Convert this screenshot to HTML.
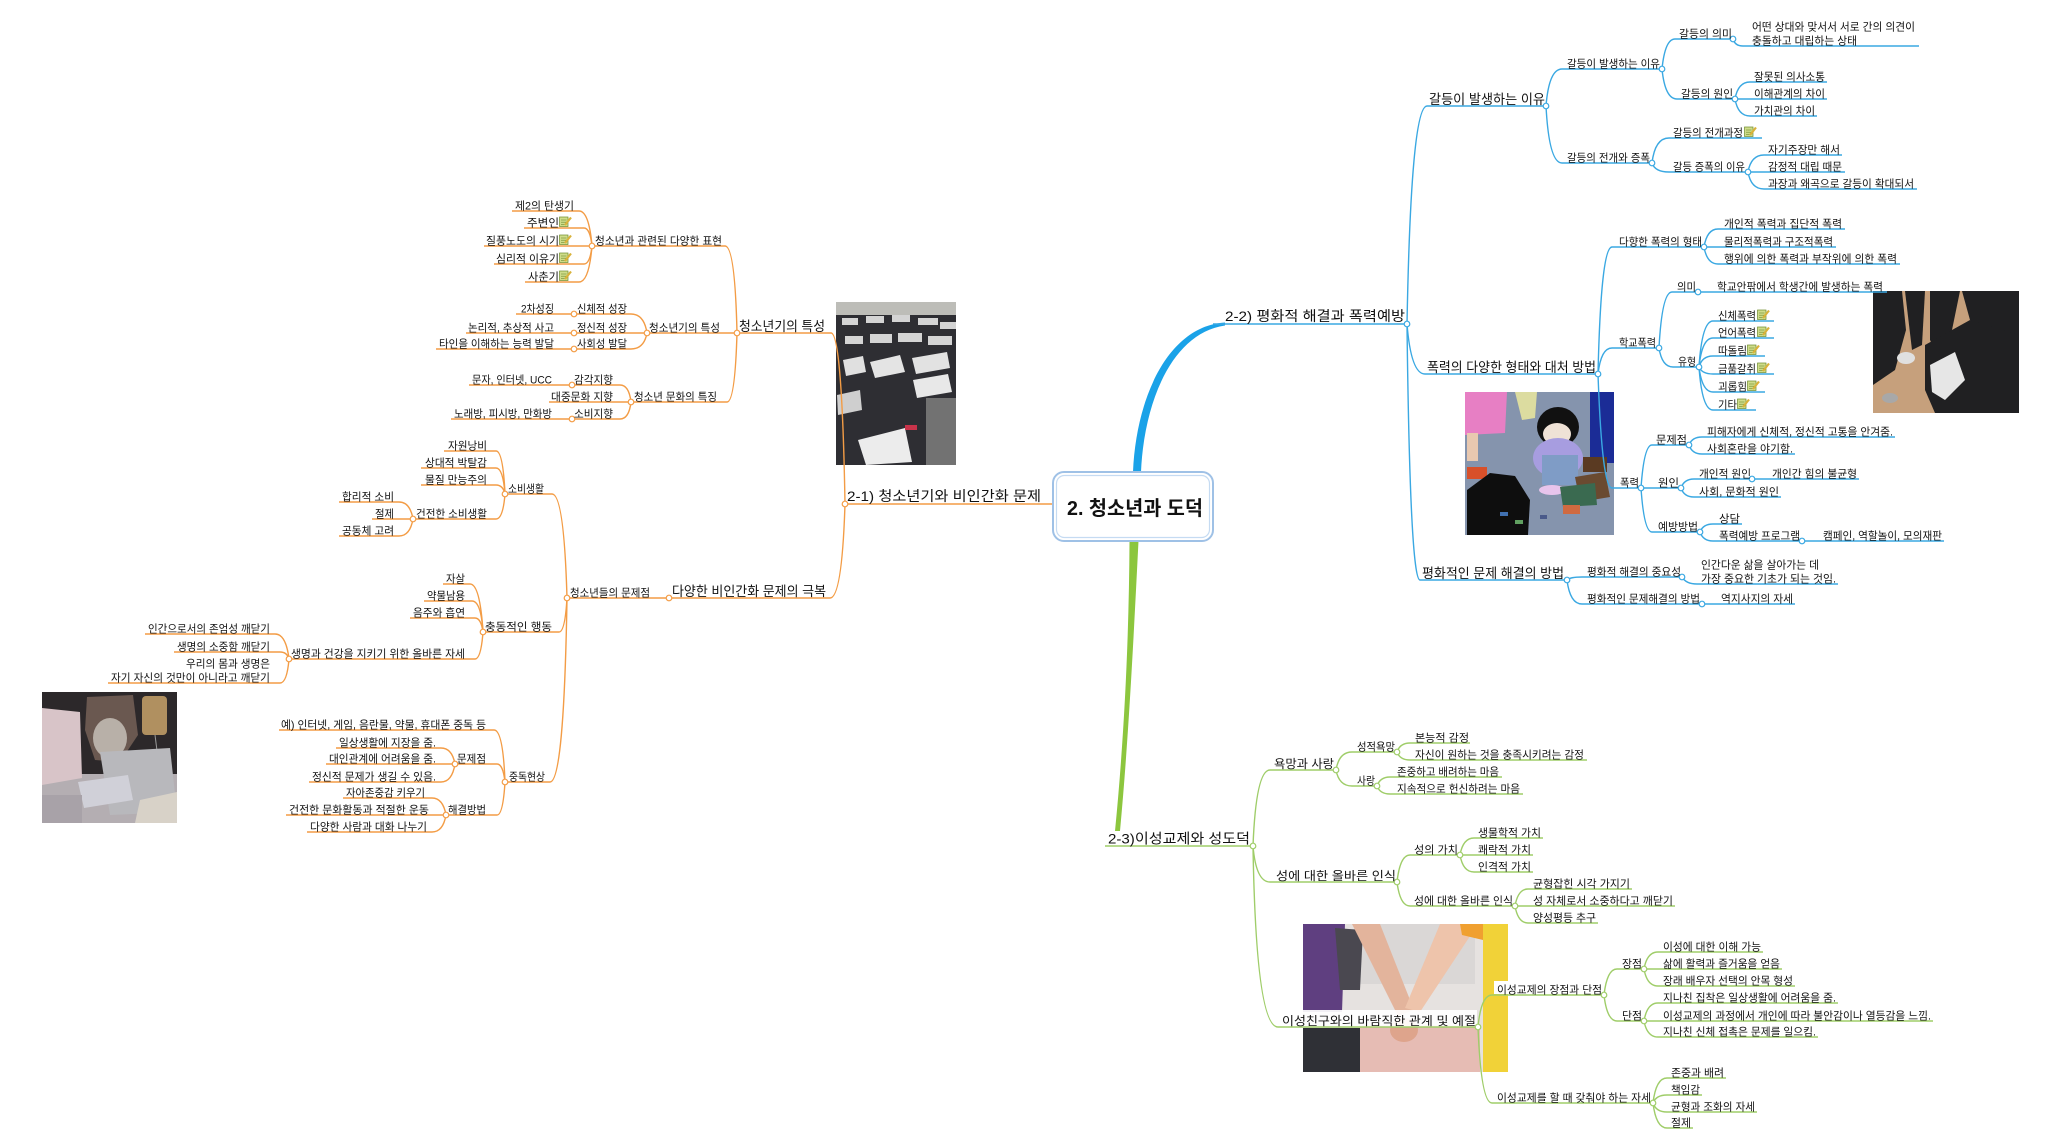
<!DOCTYPE html>
<html><head><meta charset="utf-8">
<style>
html,body{margin:0;padding:0;background:#fff;}
body{width:2045px;height:1134px;overflow:hidden;}
svg{display:block;}
text{font-family:"Liberation Sans","Noto Sans CJK KR","NanumGothic",sans-serif;fill:#111;}
.a{font-size:11px;}
.b{font-size:13.5px;}
.c{font-size:12px;}
.d{font-size:14px;}
.o path{fill:none;stroke:#f39c45;stroke-width:1.4;}
.u path{fill:none;stroke:#3aa8e2;stroke-width:1.4;}
.g path{fill:none;stroke:#9fcd69;stroke-width:1.4;}
.oc circle{fill:#fff;stroke:#f39c45;stroke-width:1.2;}
.uc circle{fill:#fff;stroke:#3aa8e2;stroke-width:1.2;}
.gc circle{fill:#fff;stroke:#9fcd69;stroke-width:1.2;}
</style></head>
<body>
<svg width="2045" height="1134" viewBox="0 0 2045 1134" xmlns="http://www.w3.org/2000/svg">
<defs>
<g id="ic">
<rect x="0.5" y="1" width="8.5" height="9.5" fill="#cfdc8a" stroke="#6d8a2c" stroke-width="0.7"/>
<line x1="2" y1="4" x2="7.5" y2="4" stroke="#6d8a2c" stroke-width="0.6"/>
<line x1="2" y1="6.2" x2="7.5" y2="6.2" stroke="#6d8a2c" stroke-width="0.6"/>
<line x1="2" y1="8.4" x2="7.5" y2="8.4" stroke="#6d8a2c" stroke-width="0.6"/>
<line x1="6" y1="9" x2="12" y2="1.5" stroke="#d9b23a" stroke-width="2.2"/>
</g>
<clipPath id="k1"><rect x="836" y="302" width="120" height="163"/></clipPath>
<clipPath id="k2"><rect x="1873" y="291" width="146" height="122"/></clipPath>
<clipPath id="k3"><rect x="1465" y="392" width="149" height="143"/></clipPath>
<clipPath id="k4"><rect x="42" y="692" width="135" height="131"/></clipPath>
<clipPath id="k5"><rect x="1303" y="924" width="205" height="148"/></clipPath>
</defs>
<rect width="2045" height="1134" fill="#fff"/>

<!-- classroom photo -->
<g clip-path="url(#k1)">
<rect x="836" y="302" width="120" height="163" fill="#2e2e33"/>
<rect x="836" y="302" width="120" height="13" fill="#bdbdb8"/>
<g fill="#d4d4d4">
<rect x="842" y="318" width="16" height="7"/><rect x="866" y="316" width="18" height="7"/><rect x="892" y="315" width="18" height="7"/><rect x="918" y="318" width="20" height="7"/><rect x="940" y="322" width="16" height="7"/>
<rect x="845" y="336" width="18" height="8"/><rect x="870" y="334" width="22" height="9"/><rect x="898" y="333" width="24" height="9"/><rect x="928" y="336" width="24" height="9"/>
</g>
<polygon points="843,360 863,356 866,372 846,376" fill="#e0e0e0"/>
<polygon points="870,362 900,355 905,372 875,378" fill="#e4e4e4"/>
<polygon points="912,358 947,352 950,368 916,374" fill="#e2e2e2"/>
<polygon points="913,380 948,374 952,392 917,398" fill="#e8e8e8"/>
<polygon points="837,395 860,390 862,410 838,415" fill="#cfcfcf"/>
<rect x="926" y="398" width="30" height="67" fill="#727272"/>
<polygon points="858,440 905,428 912,462 866,465" fill="#ececec"/>
<rect x="905" y="425" width="12" height="5" fill="#c8334a"/>
</g>

<!-- school violence photo -->
<g clip-path="url(#k2)">
<rect x="1873" y="291" width="146" height="122" fill="#c6a07c"/>
<g fill="#202022">
<polygon points="1873,291 1902,291 1906,330 1895,370 1873,385"/>
<polygon points="1905,291 1925,291 1922,345 1912,350"/>
<polygon points="1930,291 1960,291 1952,330 1940,360 1930,340"/>
<polygon points="1962,291 2019,291 2019,340 1990,335 1970,320"/>
<polygon points="1925,345 1970,320 2019,335 2019,413 1935,413 1925,390"/>
</g>
<polygon points="1930,365 1955,352 1965,380 1945,400 1932,392" fill="#e6e6e6"/>
<ellipse cx="1906" cy="358" rx="9" ry="6" fill="#e0e0e0"/>
<ellipse cx="1890" cy="398" rx="8" ry="5" fill="#a8a8a8"/>
</g>

<!-- painting -->
<g clip-path="url(#k3)">
<rect x="1465" y="392" width="149" height="143" fill="#8594ad"/>
<polygon points="1465,392 1507,392 1505,433 1465,435" fill="#e77fc4"/>
<rect x="1467" y="433" width="11" height="28" fill="#e8c8b0"/>
<rect x="1467" y="467" width="20" height="12" fill="#d8502a"/>
<polygon points="1515,392 1537,392 1535,418 1522,420" fill="#dcdca0"/>
<rect x="1590" y="392" width="24" height="71" fill="#1b2c96"/>
<rect x="1583" y="457" width="24" height="15" fill="#5a3a22"/>
<ellipse cx="1558" cy="427" rx="21" ry="20" fill="#111"/>
<ellipse cx="1557" cy="434" rx="14" ry="11" fill="#efe2d6"/>
<ellipse cx="1558" cy="458" rx="25" ry="20" fill="#a79de0"/>
<rect x="1542" y="455" width="36" height="30" fill="#7f9cc6"/>
<ellipse cx="1552" cy="490" rx="13" ry="5" fill="#e8c4ec"/>
<polygon points="1575,477 1605,472 1610,497 1580,502" fill="#6a4a30"/>
<polygon points="1560,487 1595,483 1597,505 1563,507" fill="#3a6a50"/>
<rect x="1563" y="505" width="17" height="9" fill="#d06a40"/>
<polygon points="1467,490 1490,473 1515,476 1530,500 1528,535 1467,535" fill="#0e0e0e"/>
<rect x="1500" y="512" width="8" height="4" fill="#4070b0"/><rect x="1515" y="520" width="8" height="4" fill="#60a060"/><rect x="1540" y="515" width="7" height="4" fill="#4a5a8a"/>
</g>

<!-- cartoon -->
<g clip-path="url(#k4)">
<rect x="42" y="692" width="135" height="131" fill="#b4aeb2"/>
<rect x="42" y="692" width="135" height="82" fill="#2c282a"/>
<polygon points="42,708 80,712 82,778 42,785" fill="#d8c4c8"/>
<polygon points="87,697 133,695 138,735 120,762 95,760 85,730" fill="#6a5850"/>
<ellipse cx="110" cy="738" rx="17" ry="20" fill="#b8b0a8"/>
<rect x="142" y="696" width="25" height="39" rx="4" fill="#b09060"/>
<line x1="155" y1="735" x2="162" y2="790" stroke="#999" stroke-width="1"/>
<polygon points="100,752 170,748 177,812 110,815" fill="#b8b8bc"/>
<polygon points="78,782 128,775 133,800 84,808" fill="#d0d0d8"/>
<polygon points="140,800 177,792 177,823 135,823" fill="#d8d2c8"/>
<rect x="42" y="795" width="40" height="28" fill="#a8a2a8"/>
</g>

<!-- couple photo -->
<g clip-path="url(#k5)">
<rect x="1303" y="924" width="205" height="148" fill="#e6e2e0"/>
<rect x="1360" y="924" width="115" height="60" fill="#dad7d6"/>
<rect x="1360" y="1025" width="120" height="47" fill="#e6bcb4"/>
<polygon points="1303,924 1345,924 1342,1012 1303,1012" fill="#5f3f80"/>
<polygon points="1335,928 1363,930 1360,990 1340,990" fill="#4a4850"/>
<polygon points="1352,924 1380,924 1414,1010 1398,1016" fill="#e3b49c"/>
<polygon points="1440,924 1478,924 1420,1012 1405,1008" fill="#eec4ab"/>
<ellipse cx="1404" cy="1030" rx="14" ry="12" fill="#dea48c"/>
<polygon points="1460,924 1485,924 1483,940 1462,935" fill="#f0a030"/>
<rect x="1483" y="924" width="25" height="148" fill="#f1d238"/>
<rect x="1303" y="1028" width="57" height="44" fill="#2f3036"/>
</g>
<rect x="1280" y="1010" width="197" height="17" fill="#fff" fill-opacity="0.92"/>
<rect x="1494" y="981" width="14" height="13" fill="#fff"/>

<!-- thick branches -->
<path d="M1133 472 C1136 398 1168 326 1225 322.5 L1225 325.5 C1172 333 1144 402 1141 472 Z" fill="#1aa2e8"/>
<path d="M1129.5 541 C1129 640 1124 740 1115 831 L1120 831 C1128.5 740 1133.5 640 1138.5 541 Z" fill="#8cc63e"/>

<!-- orange connectors -->
<g class="o">
<path d="M845 504 L1053 504"/>
<path d="M845 504 Q842 333 831 333 L736 333"/>
<path d="M845 504 Q842 598 830 598 L669 598"/>
<path d="M737 333 Q735 246 725 246 L591 246"/>
<path d="M737 333 L647 333"/>
<path d="M737 333 Q735 402 727 402 L631 402"/>
<path d="M592 246 Q589 211 579 211 L512 211"/>
<path d="M592 246 Q590 228 584 228 L524 228"/>
<path d="M592 246 L484 246"/>
<path d="M592 246 Q590 264 584 264 L494 264"/>
<path d="M592 246 Q589 282 579 282 L525 282"/>
<path d="M647 333 Q644 314 631 314 L574 314"/>
<path d="M647 333 L574 333"/>
<path d="M647 333 Q644 349 631 349 L574 349"/>
<path d="M574 314 L516 314"/><path d="M574 333 L466 333"/><path d="M574 349 L436 349"/>
<path d="M631 402 Q629 385 620 385 L570 385"/><path d="M572 385 L469 385"/>
<path d="M631 402 L549 402"/>
<path d="M631 402 Q629 419 620 419 L570 419"/><path d="M572 419 L451 419"/>
<path d="M669 598 L567 598"/>
<path d="M567 598 Q564 494 552 494 L505 494"/>
<path d="M567 598 Q565 632 559 632 L483 632"/>
<path d="M567 598 Q564 782 550 782 L505 782"/>
<path d="M505 494 Q503 451 496 451 L444 451"/>
<path d="M505 494 Q503 468 496 468 L421 468"/>
<path d="M505 494 Q503 485 496 485 L421 485"/>
<path d="M505 494 Q503 519 496 519 L413 519"/>
<path d="M413 519 Q410 502 399 502 L339 502"/>
<path d="M413 519 L372 519"/>
<path d="M413 519 Q410 536 399 536 L339 536"/>
<path d="M483 632 Q480 584 470 584 L443 584"/>
<path d="M483 632 Q481 601 472 601 L424 601"/>
<path d="M483 632 Q481 618 475 618 L410 618"/>
<path d="M483 632 Q481 659 475 659 L289 659"/>
<path d="M289 659 Q286 634 275 634 L145 634"/>
<path d="M289 659 Q287 652 280 652 L174 652"/>
<path d="M289 659 Q287 683 280 683 L108 683"/>
<path d="M505 782 Q503 730 494 730 L279 730"/>
<path d="M505 782 Q503 764 497 764 L455 764"/>
<path d="M505 782 Q503 815 497 815 L446 815"/>
<path d="M455 764 Q452 748 441 748 L336 748"/>
<path d="M455 764 L326 764"/>
<path d="M455 764 Q452 782 441 782 L309 782"/>
<path d="M446 815 Q443 798 432 798 L343 798"/>
<path d="M446 815 L286 815"/>
<path d="M446 815 Q443 832 432 832 L307 832"/>
</g>
<g class="oc">
<circle cx="845" cy="504" r="2.8"/><circle cx="737" cy="333" r="2.8"/><circle cx="592" cy="246" r="2.8"/><circle cx="647" cy="333" r="2.8"/>
<circle cx="574" cy="314" r="2.8"/><circle cx="574" cy="333" r="2.8"/><circle cx="574" cy="349" r="2.8"/><circle cx="631" cy="402" r="2.8"/>
<circle cx="572" cy="385" r="2.8"/><circle cx="572" cy="419" r="2.8"/><circle cx="669" cy="598" r="2.8"/><circle cx="567" cy="598" r="2.8"/>
<circle cx="505" cy="494" r="2.8"/><circle cx="413" cy="519" r="2.8"/><circle cx="483" cy="632" r="2.8"/><circle cx="289" cy="659" r="2.8"/>
<circle cx="505" cy="782" r="2.8"/><circle cx="455" cy="764" r="2.8"/><circle cx="446" cy="815" r="2.8"/>
</g>

<!-- blue connectors -->
<g class="u">
<path d="M1213 324 L1407 324"/>
<path d="M1407 324 Q1411 106 1427 106 L1546 106"/>
<path d="M1407 324 Q1411 374 1425 374 L1598 374"/>
<path d="M1407 324 Q1410 580 1420 580 L1567 580"/>
<path d="M1546 106 Q1549 69 1562 69 L1662 69"/>
<path d="M1546 106 Q1549 163 1562 163 L1652 163"/>
<path d="M1662 69 Q1665 39 1675 39 L1733 39"/>
<path d="M1662 69 Q1665 99 1677 99 L1735 99"/>
<path d="M1733 39 Q1735 46 1743 46 L1919 46"/>
<path d="M1735 99 Q1738 82 1750 82 L1827 82"/>
<path d="M1735 99 L1827 99"/>
<path d="M1735 99 Q1738 116 1750 116 L1817 116"/>
<path d="M1652 163 Q1655 138 1669 138 L1762 138"/>
<path d="M1652 163 Q1655 172 1669 172 L1748 172"/>
<path d="M1748 172 Q1751 155 1764 155 L1842 155"/>
<path d="M1748 172 L1845 172"/>
<path d="M1748 172 Q1751 189 1764 189 L1917 189"/>
<path d="M1598 374 Q1601 247 1612 247 L1704 247"/>
<path d="M1598 374 Q1601 348 1612 348 L1659 348"/>
<path d="M1598 374 Q1602 488 1612 488 L1641 488"/>
<path d="M1704 247 Q1707 229 1718 229 L1845 229"/>
<path d="M1704 247 L1836 247"/>
<path d="M1704 247 Q1707 264 1718 264 L1900 264"/>
<path d="M1659 348 Q1662 292 1672 292 L1698 292"/>
<path d="M1659 348 Q1662 367 1673 367 L1699 367"/>
<path d="M1698 292 L1887 292"/>
<path d="M1699 367 Q1702 321 1713 321 L1774 321"/>
<path d="M1699 367 Q1702 338 1713 338 L1774 338"/>
<path d="M1699 367 Q1702 356 1713 356 L1765 356"/>
<path d="M1699 367 Q1702 374 1713 374 L1774 374"/>
<path d="M1699 367 Q1702 392 1713 392 L1765 392"/>
<path d="M1699 367 Q1702 410 1713 410 L1756 410"/>
<path d="M1641 488 Q1644 445 1652 445 L1689 445"/>
<path d="M1641 488 L1681 488"/>
<path d="M1641 488 Q1644 532 1652 532 L1700 532"/>
<path d="M1689 445 Q1692 437 1702 437 L1895 437"/>
<path d="M1689 445 Q1692 454 1702 454 L1795 454"/>
<path d="M1681 488 Q1684 479 1694 479 L1752 479"/>
<path d="M1681 488 Q1684 497 1694 497 L1781 497"/>
<path d="M1752 479 L1859 479"/>
<path d="M1700 532 Q1703 524 1713 524 L1742 524"/>
<path d="M1700 532 Q1703 541 1713 541 L1802 541"/>
<path d="M1802 541 L1944 541"/>
<path d="M1567 580 Q1570 577 1582 577 L1682 577"/>
<path d="M1567 580 Q1570 604 1582 604 L1702 604"/>
<path d="M1682 577 Q1686 584 1697 584 L1838 584"/>
<path d="M1702 604 L1795 604"/>
</g>
<g class="uc">
<circle cx="1407" cy="324" r="2.8"/><circle cx="1546" cy="106" r="2.8"/><circle cx="1662" cy="69" r="2.8"/><circle cx="1733" cy="39" r="2.8"/>
<circle cx="1735" cy="99" r="2.8"/><circle cx="1652" cy="163" r="2.8"/><circle cx="1748" cy="172" r="2.8"/><circle cx="1598" cy="374" r="2.8"/>
<circle cx="1704" cy="247" r="2.8"/><circle cx="1659" cy="348" r="2.8"/><circle cx="1698" cy="292" r="2.8"/><circle cx="1699" cy="367" r="2.8"/>
<circle cx="1641" cy="488" r="2.8"/><circle cx="1689" cy="445" r="2.8"/><circle cx="1681" cy="488" r="2.8"/><circle cx="1752" cy="479" r="2.8"/>
<circle cx="1700" cy="532" r="2.8"/><circle cx="1802" cy="541" r="2.8"/><circle cx="1567" cy="580" r="2.8"/><circle cx="1682" cy="577" r="2.8"/><circle cx="1702" cy="604" r="2.8"/>
</g>

<!-- green connectors -->
<g class="g">
<path d="M1105 846 L1253 846"/>
<path d="M1253 846 Q1256 770 1270 770 L1336 770"/>
<path d="M1253 846 Q1256 882 1270 882 L1397 882"/>
<path d="M1253 846 Q1256 1027 1278 1027 L1478 1027"/>
<path d="M1336 770 Q1339 752 1352 752 L1397 752"/>
<path d="M1336 770 Q1339 786 1352 786 L1377 786"/>
<path d="M1397 752 Q1400 743 1410 743 L1470 743"/>
<path d="M1397 752 Q1400 760 1410 760 L1587 760"/>
<path d="M1377 786 Q1380 777 1390 777 L1502 777"/>
<path d="M1377 786 Q1380 794 1390 794 L1523 794"/>
<path d="M1397 882 Q1400 855 1410 855 L1460 855"/>
<path d="M1397 882 Q1400 906 1410 906 L1515 906"/>
<path d="M1460 855 Q1463 838 1474 838 L1543 838"/>
<path d="M1460 855 L1533 855"/>
<path d="M1460 855 Q1463 872 1474 872 L1533 872"/>
<path d="M1515 906 Q1518 889 1528 889 L1632 889"/>
<path d="M1515 906 L1675 906"/>
<path d="M1515 906 Q1518 923 1528 923 L1598 923"/>
<path d="M1478 1027 Q1481 995 1492 995 L1604 995"/>
<path d="M1478 1027 Q1481 1103 1492 1103 L1653 1103"/>
<path d="M1604 995 Q1607 969 1617 969 L1644 969"/>
<path d="M1604 995 Q1607 1021 1617 1021 L1644 1021"/>
<path d="M1644 969 Q1647 952 1658 952 L1763 952"/>
<path d="M1644 969 L1782 969"/>
<path d="M1644 969 Q1647 986 1658 986 L1795 986"/>
<path d="M1644 1021 Q1647 1003 1658 1003 L1838 1003"/>
<path d="M1644 1021 L1933 1021"/>
<path d="M1644 1021 Q1647 1037 1658 1037 L1818 1037"/>
<path d="M1653 1103 Q1656 1078 1667 1078 L1726 1078"/>
<path d="M1653 1103 Q1656 1095 1667 1095 L1702 1095"/>
<path d="M1653 1103 Q1656 1112 1667 1112 L1757 1112"/>
<path d="M1653 1103 Q1656 1128 1667 1128 L1693 1128"/>
</g>
<g class="gc">
<circle cx="1253" cy="846" r="2.8"/><circle cx="1336" cy="770" r="2.8"/><circle cx="1397" cy="752" r="2.8"/><circle cx="1377" cy="786" r="2.8"/>
<circle cx="1397" cy="882" r="2.8"/><circle cx="1460" cy="855" r="2.8"/><circle cx="1515" cy="906" r="2.8"/><circle cx="1478" cy="1027" r="2.8"/>
<circle cx="1604" cy="995" r="2.8"/><circle cx="1644" cy="969" r="2.8"/><circle cx="1644" cy="1021" r="2.8"/><circle cx="1653" cy="1103" r="2.8"/>
</g>

<!-- center node -->
<rect x="1053" y="472" width="160" height="69" rx="11" fill="#fff" stroke="#9fc1e6" stroke-width="2"/>
<rect x="1056.5" y="475.5" width="153" height="62" rx="8" fill="none" stroke="#c5dbf2" stroke-width="1.2"/>
<text x="1067" y="515" style="font-size:20px;font-weight:bold" textLength="136" lengthAdjust="spacingAndGlyphs">2. 청소년과 도덕</text>

<!-- icons -->
<use href="#ic" x="559" y="216"/><use href="#ic" x="559" y="234"/><use href="#ic" x="559" y="252"/><use href="#ic" x="559" y="270"/>
<use href="#ic" x="1744" y="126"/>
<use href="#ic" x="1757" y="309"/><use href="#ic" x="1757" y="326"/><use href="#ic" x="1747" y="344"/><use href="#ic" x="1757" y="362"/><use href="#ic" x="1747" y="380"/><use href="#ic" x="1737" y="398"/>

<!-- orange texts -->
<g lengthAdjust="spacingAndGlyphs">
<text class="d" x="847" y="501" textLength="194" lengthAdjust="spacingAndGlyphs">2-1) 청소년기와 비인간화 문제</text>
<text class="b" x="739" y="331" textLength="86" lengthAdjust="spacingAndGlyphs">청소년기의 특성</text>
<text class="b" x="672" y="596" textLength="154" lengthAdjust="spacingAndGlyphs">다양한 비인간화 문제의 극복</text>
<text class="a" x="595" y="244.5" textLength="127" lengthAdjust="spacingAndGlyphs">청소년과 관련된 다양한 표현</text>
<text class="a" x="649" y="331.5" textLength="71" lengthAdjust="spacingAndGlyphs">청소년기의 특성</text>
<text class="a" x="634" y="400.5" textLength="83" lengthAdjust="spacingAndGlyphs">청소년 문화의 특징</text>
<text class="a" x="515" y="209.5" textLength="59" lengthAdjust="spacingAndGlyphs">제2의 탄생기</text>
<text class="a" x="527" y="226.5" textLength="32" lengthAdjust="spacingAndGlyphs">주변인</text>
<text class="a" x="486" y="244.5" textLength="73" lengthAdjust="spacingAndGlyphs">질풍노도의 시기</text>
<text class="a" x="496" y="262.5" textLength="63" lengthAdjust="spacingAndGlyphs">심리적 이유기</text>
<text class="a" x="528" y="280.5" textLength="31" lengthAdjust="spacingAndGlyphs">사춘기</text>
<text class="a" x="577" y="312.5" textLength="50" lengthAdjust="spacingAndGlyphs">신체적 성장</text>
<text class="a" x="577" y="331.5" textLength="50" lengthAdjust="spacingAndGlyphs">정신적 성장</text>
<text class="a" x="577" y="347.5" textLength="50" lengthAdjust="spacingAndGlyphs">사회성 발달</text>
<text class="a" x="521" y="312.5" textLength="33" lengthAdjust="spacingAndGlyphs">2차성징</text>
<text class="a" x="468" y="331.5" textLength="86" lengthAdjust="spacingAndGlyphs">논리적, 추상적 사고</text>
<text class="a" x="439" y="347.5" textLength="115" lengthAdjust="spacingAndGlyphs">타인을 이해하는 능력 발달</text>
<text class="a" x="574" y="383.5" textLength="39" lengthAdjust="spacingAndGlyphs">감각지향</text>
<text class="a" x="472" y="383.5" textLength="80" lengthAdjust="spacingAndGlyphs">문자, 인터넷, UCC</text>
<text class="a" x="551" y="400.5" textLength="62" lengthAdjust="spacingAndGlyphs">대중문화 지향</text>
<text class="a" x="574" y="417.5" textLength="39" lengthAdjust="spacingAndGlyphs">소비지향</text>
<text class="a" x="454" y="417.5" textLength="98" lengthAdjust="spacingAndGlyphs">노래방, 피시방, 만화방</text>
<text class="a" x="570" y="596.5" textLength="80" lengthAdjust="spacingAndGlyphs">청소년들의 문제점</text>
<text class="a" x="508" y="492.5" textLength="36" lengthAdjust="spacingAndGlyphs">소비생활</text>
<text class="a" x="485" y="630.5" textLength="67" lengthAdjust="spacingAndGlyphs">충동적인 행동</text>
<text class="a" x="509" y="780.5" textLength="36" lengthAdjust="spacingAndGlyphs">중독현상</text>
<text class="a" x="448" y="449.5" textLength="39" lengthAdjust="spacingAndGlyphs">자원낭비</text>
<text class="a" x="425" y="466.5" textLength="62" lengthAdjust="spacingAndGlyphs">상대적 박탈감</text>
<text class="a" x="425" y="483.5" textLength="62" lengthAdjust="spacingAndGlyphs">물질 만능주의</text>
<text class="a" x="416" y="517.5" textLength="71" lengthAdjust="spacingAndGlyphs">건전한 소비생활</text>
<text class="a" x="342" y="500.5" textLength="52" lengthAdjust="spacingAndGlyphs">합리적 소비</text>
<text class="a" x="375" y="517.5" textLength="19" lengthAdjust="spacingAndGlyphs">절제</text>
<text class="a" x="342" y="534.5" textLength="52" lengthAdjust="spacingAndGlyphs">공동체 고려</text>
<text class="a" x="446" y="582.5" textLength="19" lengthAdjust="spacingAndGlyphs">자살</text>
<text class="a" x="427" y="599.5" textLength="38" lengthAdjust="spacingAndGlyphs">약물남용</text>
<text class="a" x="413" y="616.5" textLength="52" lengthAdjust="spacingAndGlyphs">음주와 흡연</text>
<text class="a" x="291" y="657.5" textLength="174" lengthAdjust="spacingAndGlyphs">생명과 건강을 지키기 위한 올바른 자세</text>
<text class="a" x="148" y="632.5" textLength="122" lengthAdjust="spacingAndGlyphs">인간으로서의 존엄성 깨닫기</text>
<text class="a" x="177" y="650.5" textLength="93" lengthAdjust="spacingAndGlyphs">생명의 소중함 깨닫기</text>
<text class="a" x="186" y="667.5" textLength="84" lengthAdjust="spacingAndGlyphs">우리의 몸과 생명은</text>
<text class="a" x="111" y="681.5" textLength="159" lengthAdjust="spacingAndGlyphs">자기 자신의 것만이 아니라고 깨닫기</text>
<text class="a" x="281" y="728.5" textLength="205" lengthAdjust="spacingAndGlyphs">예) 인터넷, 게임, 음란물, 약물, 휴대폰 중독 등</text>
<text class="a" x="457" y="762.5" textLength="29" lengthAdjust="spacingAndGlyphs">문제점</text>
<text class="a" x="339" y="746.5" textLength="97" lengthAdjust="spacingAndGlyphs">일상생활에 지장을 줌.</text>
<text class="a" x="329" y="762.5" textLength="107" lengthAdjust="spacingAndGlyphs">대인관계에 어려움을 줌.</text>
<text class="a" x="312" y="780.5" textLength="124" lengthAdjust="spacingAndGlyphs">정신적 문제가 생길 수 있음.</text>
<text class="a" x="448" y="813.5" textLength="38" lengthAdjust="spacingAndGlyphs">해결방법</text>
<text class="a" x="346" y="796.5" textLength="79" lengthAdjust="spacingAndGlyphs">자아존중감 키우기</text>
<text class="a" x="289" y="813.5" textLength="140" lengthAdjust="spacingAndGlyphs">건전한 문화활동과 적절한 운동</text>
<text class="a" x="310" y="830.5" textLength="117" lengthAdjust="spacingAndGlyphs">다양한 사람과 대화 나누기</text>
</g>

<!-- blue texts -->
<g>
<text class="d" x="1225" y="321" textLength="180" lengthAdjust="spacingAndGlyphs">2-2) 평화적 해결과 폭력예방</text>
<text class="b" x="1429" y="104" textLength="116" lengthAdjust="spacingAndGlyphs">갈등이 발생하는 이유</text>
<text class="b" x="1427" y="372" textLength="169" lengthAdjust="spacingAndGlyphs">폭력의 다양한 형태와 대처 방법</text>
<text class="b" x="1422" y="578" textLength="142" lengthAdjust="spacingAndGlyphs">평화적인 문제 해결의 방법</text>
<text class="a" x="1567" y="67.5" textLength="93" lengthAdjust="spacingAndGlyphs">갈등이 발생하는 이유</text>
<text class="a" x="1679" y="37.5" textLength="53" lengthAdjust="spacingAndGlyphs">갈등의 의미</text>
<text class="a" x="1752" y="30.5" textLength="163" lengthAdjust="spacingAndGlyphs">어떤 상대와 맞서서 서로 간의 의견이</text>
<text class="a" x="1752" y="44.5" textLength="105" lengthAdjust="spacingAndGlyphs">충돌하고 대립하는 상태</text>
<text class="a" x="1681" y="97.5" textLength="52" lengthAdjust="spacingAndGlyphs">갈등의 원인</text>
<text class="a" x="1754" y="80.5" textLength="71" lengthAdjust="spacingAndGlyphs">잘못된 의사소통</text>
<text class="a" x="1754" y="97.5" textLength="71" lengthAdjust="spacingAndGlyphs">이해관계의 차이</text>
<text class="a" x="1754" y="114.5" textLength="61" lengthAdjust="spacingAndGlyphs">가치관의 차이</text>
<text class="a" x="1567" y="161.5" textLength="83" lengthAdjust="spacingAndGlyphs">갈등의 전개와 증폭</text>
<text class="a" x="1673" y="136.5" textLength="70" lengthAdjust="spacingAndGlyphs">갈등의 전개과정</text>
<text class="a" x="1673" y="170.5" textLength="72" lengthAdjust="spacingAndGlyphs">갈등 증폭의 이유</text>
<text class="a" x="1768" y="153.5" textLength="72" lengthAdjust="spacingAndGlyphs">자기주장만 해서</text>
<text class="a" x="1768" y="170.5" textLength="74" lengthAdjust="spacingAndGlyphs">감정적 대립 때문</text>
<text class="a" x="1768" y="187.5" textLength="146" lengthAdjust="spacingAndGlyphs">과장과 왜곡으로 갈등이 확대되서</text>
<text class="a" x="1619" y="245.5" textLength="83" lengthAdjust="spacingAndGlyphs">다향한 폭력의 형태</text>
<text class="a" x="1724" y="227.5" textLength="118" lengthAdjust="spacingAndGlyphs">개인적 폭력과 집단적 폭력</text>
<text class="a" x="1724" y="245.5" textLength="109" lengthAdjust="spacingAndGlyphs">물리적폭력과 구조적폭력</text>
<text class="a" x="1724" y="262.5" textLength="173" lengthAdjust="spacingAndGlyphs">행위에 의한 폭력과 부작위에 의한 폭력</text>
<text class="a" x="1619" y="346.5" textLength="37" lengthAdjust="spacingAndGlyphs">학교폭력</text>
<text class="a" x="1677" y="290.5" textLength="19" lengthAdjust="spacingAndGlyphs">의미</text>
<text class="a" x="1717" y="290.5" textLength="166" lengthAdjust="spacingAndGlyphs">학교안팎에서 학생간에 발생하는 폭력</text>
<text class="a" x="1678" y="365.5" textLength="18" lengthAdjust="spacingAndGlyphs">유형</text>
<text class="a" x="1718" y="319.5" textLength="38" lengthAdjust="spacingAndGlyphs">신체폭력</text>
<text class="a" x="1718" y="336.5" textLength="38" lengthAdjust="spacingAndGlyphs">언어폭력</text>
<text class="a" x="1718" y="354.5" textLength="29" lengthAdjust="spacingAndGlyphs">따돌림</text>
<text class="a" x="1718" y="372.5" textLength="38" lengthAdjust="spacingAndGlyphs">금품갈취</text>
<text class="a" x="1718" y="390.5" textLength="29" lengthAdjust="spacingAndGlyphs">괴롭힘</text>
<text class="a" x="1718" y="408.5" textLength="19" lengthAdjust="spacingAndGlyphs">기타</text>
<text class="a" x="1620" y="486.5" textLength="19" lengthAdjust="spacingAndGlyphs">폭력</text>
<text class="a" x="1656" y="443.5" textLength="31" lengthAdjust="spacingAndGlyphs">문제점</text>
<text class="a" x="1707" y="435.5" textLength="186" lengthAdjust="spacingAndGlyphs">피해자에게 신체적, 정신적 고통을 안겨줌.</text>
<text class="a" x="1707" y="452.5" textLength="86" lengthAdjust="spacingAndGlyphs">사회혼란을 야기함.</text>
<text class="a" x="1658" y="486.5" textLength="21" lengthAdjust="spacingAndGlyphs">원인</text>
<text class="a" x="1699" y="477.5" textLength="52" lengthAdjust="spacingAndGlyphs">개인적 원인</text>
<text class="a" x="1772" y="477.5" textLength="85" lengthAdjust="spacingAndGlyphs">개인간 힘의 불균형</text>
<text class="a" x="1699" y="495.5" textLength="80" lengthAdjust="spacingAndGlyphs">사회, 문화적 원인</text>
<text class="a" x="1658" y="530.5" textLength="40" lengthAdjust="spacingAndGlyphs">예방방법</text>
<text class="a" x="1719" y="522.5" textLength="21" lengthAdjust="spacingAndGlyphs">상담</text>
<text class="a" x="1719" y="539.5" textLength="81" lengthAdjust="spacingAndGlyphs">폭력예방 프로그램</text>
<text class="a" x="1823" y="539.5" textLength="119" lengthAdjust="spacingAndGlyphs">캠페인, 역할놀이, 모의재판</text>
<text class="a" x="1587" y="575.5" textLength="94" lengthAdjust="spacingAndGlyphs">평화적 해결의 중요성</text>
<text class="a" x="1701" y="568.5" textLength="118" lengthAdjust="spacingAndGlyphs">인간다운 삶을 살아가는 데</text>
<text class="a" x="1701" y="582.5" textLength="135" lengthAdjust="spacingAndGlyphs">가장 중요한 기초가 되는 것임.</text>
<text class="a" x="1587" y="602.5" textLength="113" lengthAdjust="spacingAndGlyphs">평화적인 문제해결의 방법</text>
<text class="a" x="1721" y="602.5" textLength="72" lengthAdjust="spacingAndGlyphs">역지사지의 자세</text>
</g>

<!-- green texts -->
<g>
<text class="d" x="1108" y="843.5" textLength="142" lengthAdjust="spacingAndGlyphs">2-3)이성교제와 성도덕</text>
<text class="c" x="1274" y="768" textLength="60" lengthAdjust="spacingAndGlyphs">욕망과 사랑</text>
<text class="c" x="1276" y="880" textLength="120" lengthAdjust="spacingAndGlyphs">성에 대한 올바른 인식</text>
<text class="c" x="1282" y="1025" textLength="194" lengthAdjust="spacingAndGlyphs">이성친구와의 바람직한 관계 및 예절</text>
<text class="a" x="1357" y="750.5" textLength="38" lengthAdjust="spacingAndGlyphs">성적욕망</text>
<text class="a" x="1415" y="741.5" textLength="54" lengthAdjust="spacingAndGlyphs">본능적 감정</text>
<text class="a" x="1415" y="758.5" textLength="169" lengthAdjust="spacingAndGlyphs">자신이 원하는 것을 충족시키려는 감정</text>
<text class="a" x="1357" y="784.5" textLength="18" lengthAdjust="spacingAndGlyphs">사랑</text>
<text class="a" x="1397" y="775.5" textLength="102" lengthAdjust="spacingAndGlyphs">존중하고 배려하는 마음</text>
<text class="a" x="1397" y="792.5" textLength="123" lengthAdjust="spacingAndGlyphs">지속적으로 헌신하려는 마음</text>
<text class="a" x="1414" y="853.5" textLength="44" lengthAdjust="spacingAndGlyphs">성의 가치</text>
<text class="a" x="1478" y="836.5" textLength="63" lengthAdjust="spacingAndGlyphs">생물학적 가치</text>
<text class="a" x="1478" y="853.5" textLength="53" lengthAdjust="spacingAndGlyphs">쾌락적 가치</text>
<text class="a" x="1478" y="870.5" textLength="53" lengthAdjust="spacingAndGlyphs">인격적 가치</text>
<text class="a" x="1414" y="904.5" textLength="99" lengthAdjust="spacingAndGlyphs">성에 대한 올바른 인식</text>
<text class="a" x="1533" y="887.5" textLength="97" lengthAdjust="spacingAndGlyphs">균형잡힌 시각 가지기</text>
<text class="a" x="1533" y="904.5" textLength="140" lengthAdjust="spacingAndGlyphs">성 자체로서 소중하다고 깨닫기</text>
<text class="a" x="1533" y="921.5" textLength="63" lengthAdjust="spacingAndGlyphs">양성평등 추구</text>
<text class="a" x="1497" y="993.5" textLength="105" lengthAdjust="spacingAndGlyphs">이성교제의 장점과 단점</text>
<text class="a" x="1622" y="967.5" textLength="20" lengthAdjust="spacingAndGlyphs">장점</text>
<text class="a" x="1663" y="950.5" textLength="98" lengthAdjust="spacingAndGlyphs">이성에 대한 이해 가능</text>
<text class="a" x="1663" y="967.5" textLength="117" lengthAdjust="spacingAndGlyphs">삶에 활력과 즐거움을 얻음</text>
<text class="a" x="1663" y="984.5" textLength="130" lengthAdjust="spacingAndGlyphs">장래 배우자 선택의 안목 형성</text>
<text class="a" x="1622" y="1019.5" textLength="20" lengthAdjust="spacingAndGlyphs">단점</text>
<text class="a" x="1663" y="1001.5" textLength="173" lengthAdjust="spacingAndGlyphs">지나친 집착은 일상생활에 어려움을 줌.</text>
<text class="a" x="1663" y="1019.5" textLength="268" lengthAdjust="spacingAndGlyphs">이성교제의 과정에서 개인에 따라 불안감이나 열등감을 느낌.</text>
<text class="a" x="1663" y="1035.5" textLength="153" lengthAdjust="spacingAndGlyphs">지나친 신체 접촉은 문제를 일으킴.</text>
<text class="a" x="1497" y="1101.5" textLength="154" lengthAdjust="spacingAndGlyphs">이성교제를 할 때 갖춰야 하는 자세</text>
<text class="a" x="1671" y="1076.5" textLength="53" lengthAdjust="spacingAndGlyphs">존중과 배려</text>
<text class="a" x="1671" y="1093.5" textLength="29" lengthAdjust="spacingAndGlyphs">책임감</text>
<text class="a" x="1671" y="1110.5" textLength="84" lengthAdjust="spacingAndGlyphs">균형과 조화의 자세</text>
<text class="a" x="1671" y="1126.5" textLength="20" lengthAdjust="spacingAndGlyphs">절제</text>
</g>
</svg>
</body></html>
